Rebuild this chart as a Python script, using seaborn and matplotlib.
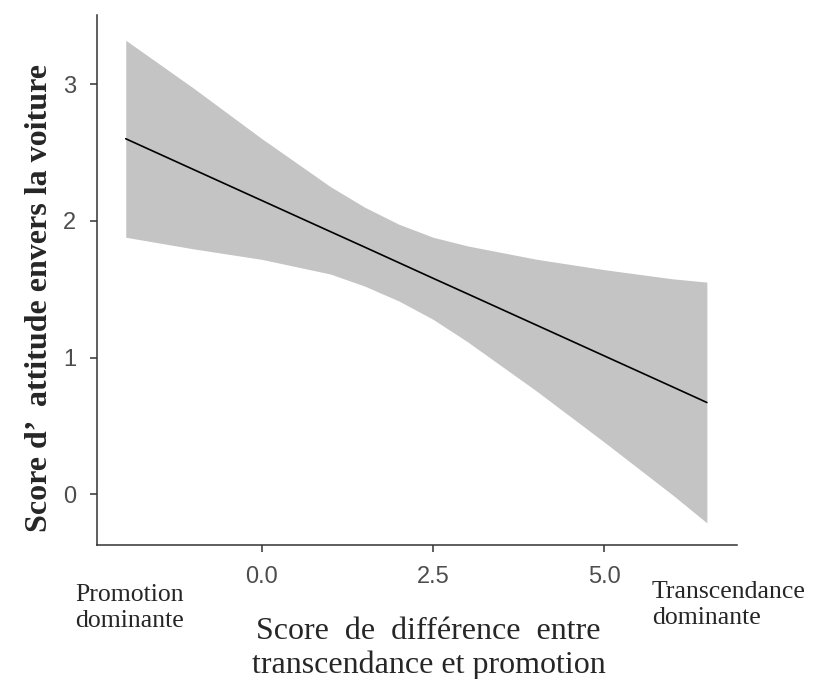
import matplotlib
matplotlib.use("Agg")
import matplotlib.pyplot as plt
import seaborn as sns
import pandas as pd

# values
x_vals = [-1.99, -1.0, 0.0, 1.0, 1.5, 2.0, 2.5, 3.0, 4.0, 5.0, 6.0, 6.5]
fit = [2.60, 2.375, 2.148, 1.921, 1.808, 1.694, 1.58, 1.467, 1.240, 1.013, 0.786, 0.672]
upper = [3.32, 2.97, 2.60, 2.25, 2.10, 1.975, 1.88, 1.817, 1.72, 1.643, 1.576, 1.552]
lower = [1.88, 1.795, 1.718, 1.611, 1.523, 1.414, 1.28, 1.117, 0.76, 0.383, -0.004, -0.208]
x_ticks = [0.0, 2.5, 5.0]
x_ticklabels = ["0.0", "2.5", "5.0"]
y_ticks = [0, 1, 2, 3]

df = pd.DataFrame({"x": x_vals, "fit": fit, "upper": upper, "lower": lower})

sns.set_style("ticks")
plt.rcParams["font.family"] = ["Liberation Sans", "DejaVu Sans"]

fig = plt.figure(figsize=(8.13, 6.79), dpi=100)
ax = fig.add_axes([0.1193, 0.1973, 0.7872, 0.7807])

ax.fill_between(df["x"], df["lower"], df["upper"], color="#c4c4c4", linewidth=0)
sns.lineplot(data=df, x="x", y="fit", ax=ax, color="#000000", linewidth=1.2)

ax.set_xlim(-2.41, 6.94)
ax.set_ylim(-0.37, 3.505)
ax.set_xticks(x_ticks)
ax.set_xticklabels(x_ticklabels)
ax.set_yticks(y_ticks)
ax.tick_params(axis="both", colors="#333333", labelcolor="#4d4d4d",
               labelsize=17, length=5, width=1.1, pad=10)
for s in ["top", "right"]:
    ax.spines[s].set_visible(False)
for s in ["left", "bottom"]:
    ax.spines[s].set_color("#333333")
    ax.spines[s].set_linewidth(1.1)
ax.set_xlabel("")
ax.set_ylabel("")

serif = ["Liberation Serif", "DejaVu Serif"]
fig.text(0.049, 0.561, "Score d\u2019  attitude envers la voiture", rotation=90,
         ha="center", va="center", family=serif, fontweight="bold", fontsize=23)
fig.text(0.092, 0.105, "Promotion\ndominante", ha="left", va="center",
         family=serif, fontsize=18.5, linespacing=1.25)
fig.text(0.802, 0.109, "Transcendance\ndominante", ha="left", va="center",
         family=serif, fontsize=18.5, linespacing=1.25)
fig.text(0.527, 0.045, "Score  de  diff\u00e9rence  entre\ntranscendance et promotion",
         ha="center", va="center", family=serif, fontsize=23, linespacing=1.2)

fig.savefig("out.png", dpi=100)
